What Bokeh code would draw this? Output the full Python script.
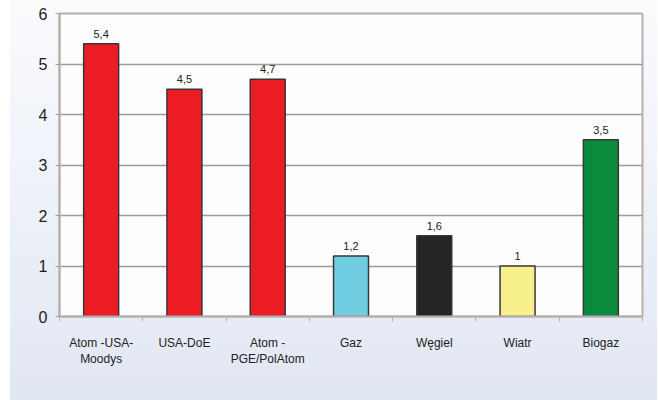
from bokeh.plotting import figure
from bokeh.models import ColumnDataSource, FixedTicker, Range1d, LabelSet
from bokeh.core.properties import value
from bokeh.embed import file_html
from bokeh.resources import INLINE

categories = ["Atom -USA-\nMoodys", "USA-DoE", "Atom -\nPGE/PolAtom", "Gaz", "Węgiel", "Wiatr", "Biogaz"]
values = [5.4, 4.5, 4.7, 1.2, 1.6, 1.0, 3.5]
colors = ["#ec1c24", "#ec1c24", "#ec1c24", "#6ecde1", "#262424", "#f7f08c", "#0a8a3c"]
y_ticks = [0, 1, 2, 3, 4, 5, 6]

xs = list(range(len(categories)))

def fmt(v):
    s = ("%.1f" % v).rstrip("0").rstrip(".")
    return s.replace(".", ",")

labels = [fmt(v) for v in values]

src = ColumnDataSource(dict(x=xs, top=values, color=colors, label=labels))

FONT = "Liberation Sans"

p = figure(width=658, height=400, output_backend="svg", toolbar_location=None,
           x_range=Range1d(-0.5, len(categories) - 0.5), y_range=Range1d(0, 6),
           min_border_left=59, min_border_top=13, min_border_right=16, min_border_bottom=84)

p.styles = {"background-image": "linear-gradient(#fafbfd, #e1e7f3)",
            "background-repeat": "no-repeat",
            "background-position": "10px 0px",
            "background-size": "647px 100%"}
p.border_fill_alpha = 0
p.background_fill_color = "#fdfdfe"
p.outline_line_color = "#b8b0ad"
p.outline_line_width = 2

p.vbar(x="x", top="top", width=0.42, bottom=0, source=src, fill_color="color",
       line_color="#3a3636", line_width=1.5)

p.add_layout(LabelSet(x="x", y="top", text="label", source=src, text_align="center",
                      text_baseline="bottom", y_offset=6, text_font_size="11px",
                      text_font=value(FONT), text_color="#222222"))

# x axis
xa = p.xaxis[0]
xa.ticker = FixedTicker(ticks=xs, minor_ticks=[x + 0.5 for x in [-1] + xs])
xa.major_label_overrides = {x: c for x, c in zip(xs, categories)}
xa.major_tick_out = 0
xa.major_tick_in = 0
xa.minor_tick_out = 5
xa.minor_tick_in = 0
xa.minor_tick_line_color = "#b8b0ad"
xa.axis_line_color = "#b8b0ad"
xa.axis_line_width = 2
xa.major_label_text_font = FONT
xa.major_label_text_font_size = "12px"
xa.major_label_text_color = "#222222"
xa.major_label_standoff = 14

# y axis
ya = p.yaxis[0]
ya.ticker = FixedTicker(ticks=y_ticks)
ya.minor_tick_line_color = None
ya.major_tick_out = 4
ya.major_tick_in = 0
ya.major_tick_line_color = "#a09c9c"
ya.axis_line_color = "#b8b0ad"
ya.axis_line_width = 2
ya.major_label_text_font = FONT
ya.major_label_text_font_size = "16px"
ya.major_label_text_color = "#222222"
ya.major_label_standoff = 8

p.xgrid.grid_line_color = None
p.ygrid.ticker = FixedTicker(ticks=y_ticks)
p.ygrid.grid_line_color = "#a09c9c"
p.ygrid.grid_line_width = 1.5

open("out.html", "w").write(file_html(p, INLINE))
